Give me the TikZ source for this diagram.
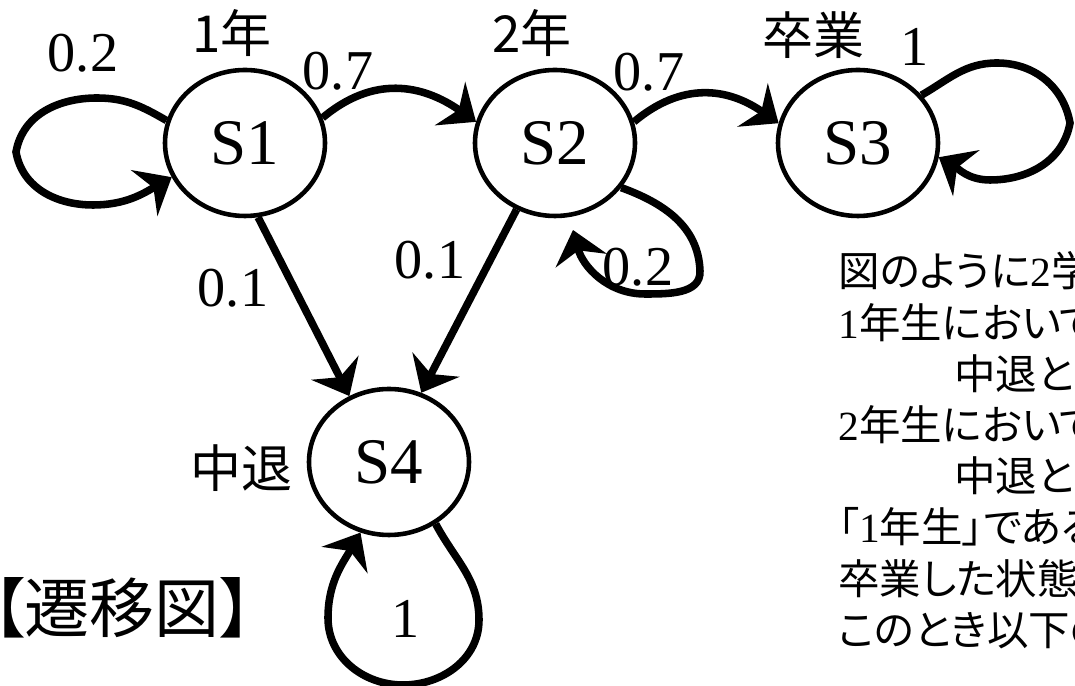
\documentclass[tikz,border=0pt]{standalone}
\usepackage{fontspec}
\setmainfont{Liberation Serif}
\newfontfamily\jp[RawFeature=+palt]{Noto Sans CJK JP}
\usetikzlibrary{shapes.geometric,arrows.meta}
\tikzset{
    state/.style={ellipse, draw=black, line width=2.6pt, minimum width=3.2cm, minimum height=2.92cm,
        inner sep=0pt, font=\fontsize{37}{40}\selectfont},
    trans/.style={draw=black, line width=4.3pt, -{Stealth[length=18pt,width=30pt,inset=6pt]}},
    prob/.style={inner sep=0pt, font=\fontsize{32}{34}\selectfont},
    tag/.style={inner sep=0pt, font=\jp\fontsize{29}{31}\selectfont},
    desc/.style={anchor=base west, inner sep=0pt, font=\fontsize{23.6}{29}\selectfont},
}

\begin{document}
\begin{tikzpicture}[scale=2]
		\useasboundingbox (0,0) rectangle (10.75,6.86);
		\clip (0,0) rectangle (10.75,6.86);
		% states
		\node[state] (s1) at (2.45,5.43) {S1};
		\node[state] (s2) at (5.55,5.43) {S2};
		\node[state] (s3) at (8.58,5.43) {S3};
		\node[state] (s4) at (3.89,2.24) {S4};
		\coordinate (s2end) at (5.73,4.56);
		% transitions
		\draw[trans] (s1.164) to[out=150,in=0] (0.97,5.88) to[out=180,in=80] (0.16,5.34)
			to[out=-80,in=180] (0.93,4.81) to[out=0,in=210] (s1.205);
		\draw[trans] (s1.18) to[out=40,in=145,looseness=1.1] (s2.165);
		\draw[trans] (s2.15) to[out=40,in=145,looseness=1.1] (s3.166);
		\draw[trans] (s3.37) to[out=30,in=180] (9.97,6.23) to[out=0,in=100] (10.70,5.63)
			to[out=-100,in=0] (9.90,5.06) to[out=180,in=-30] (s3.-10);
		\draw[trans] (s2.-34) to[out=-20,in=92] (7.00,4.15) to[out=-88,in=0] (6.45,3.92)
			to[out=180,in=-75] (s2end);
		\draw[trans] (s1.-80) -- (s4.121);
		\draw[trans] (s2.-120) -- (s4.65);
		\draw[trans] (s4.-53) to[out=-62,in=90] (4.79,0.66) to[out=-90,in=0] (4.03,0.01)
			to[out=180,in=-90] (3.28,0.68) to[out=90,in=-120] (s4.-112);
		% labels
		\node[prob] (p11) at (0.83,6.33) {0.2};
		\node[prob] (p12) at (3.38,6.15) {0.7};
		\node[prob] (p23) at (6.49,6.14) {0.7};
		\node[prob] (p33) at (9.15,6.39) {1};
		\node[prob] (p22) at (6.38,4.19) {0.2};
		\node[prob] (p14) at (2.33,3.98) {0.1};
		\node[prob] (p24) at (4.30,4.26) {0.1};
		\node[prob] (p44) at (4.06,0.67) {1};
		\node[tag] (t1) at (2.32,6.53) {1年};
		\node[tag] (t2) at (5.32,6.53) {2年};
		\node[tag] (t3) at (8.13,6.51) {卒業};
		\node[tag] (t4) at (2.41,2.18) {中退};
		\node[tag, anchor=west, font=\jp\fontsize{37}{40}\selectfont] (title) at (-0.08,0.78) {【遷移図】};
		% text
		\node[desc] (d1) at (8.38,3.99) {{\jp 図のように}2{\jp 学}};
		\node[desc] (d2) at (8.38,3.478) {1{\jp 年生において}};
		\node[desc] (d3) at (8.38,2.966) {\hspace*{66pt}{\jp 中退とな}};
		\node[desc] (d4) at (8.38,2.454) {2{\jp 年生において}};
		\node[desc] (d5) at (8.38,1.942) {\hspace*{66pt}{\jp 中退とな}};
		\node[desc] (d6) at (8.38,1.43) {{\jp 「}1{\jp 年生」である}};
		\node[desc] (d7) at (8.38,0.918) {{\jp 卒業した状態}};
		\node[desc] (d8) at (8.38,0.406) {{\jp このとき以下の}};
	\end{tikzpicture}
\end{document}
